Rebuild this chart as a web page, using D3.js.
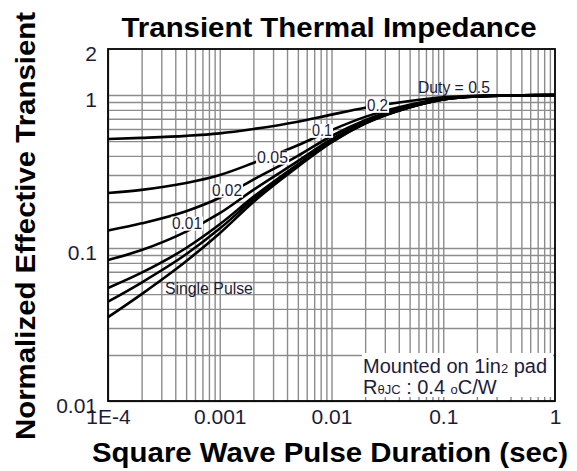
<!DOCTYPE html>
<html>
<head>
<meta charset="utf-8">
<script src="https://cdn.jsdelivr.net/npm/d3@7"></script>
<style>
  body { margin: 0; background: #fff; }
  svg { display: block; font-family: "Liberation Sans", Arial, sans-serif; }
</style>
</head>
<body>
<svg id="chart" width="577" height="471"></svg>
<script>
// Pulse durations (s) at which each curve is sampled
const pulseDuration = [1e-4, 2e-4, 5e-4, 1e-3, 2e-3, 5e-3, 1e-2, 2e-2, 5e-2, 0.1, 0.2, 0.5, 1];

// Normalized effective transient thermal impedance per duty cycle
const duty050 = [0.516, 0.525, 0.541, 0.562, 0.600, 0.670, 0.745, 0.825, 0.915, 0.967, 0.990, 0.998, 1.0];
const duty020 = [0.229, 0.240, 0.266, 0.300, 0.360, 0.470, 0.590, 0.720, 0.864, 0.948, 0.984, 0.996, 1.0];
const duty010 = [0.130, 0.145, 0.174, 0.213, 0.280, 0.400, 0.540, 0.685, 0.847, 0.942, 0.982, 0.996, 1.0];
const duty005 = [0.0835, 0.097, 0.128, 0.169, 0.240, 0.370, 0.515, 0.668, 0.840, 0.940, 0.981, 0.995, 1.0];
const duty002 = [0.0548, 0.069, 0.100, 0.143, 0.216, 0.353, 0.500, 0.657, 0.833, 0.937, 0.980, 0.995, 1.0];
const duty001 = [0.0446, 0.0595, 0.091, 0.134, 0.208, 0.347, 0.495, 0.654, 0.832, 0.936, 0.980, 0.995, 1.0];
const singlePulse = [0.0353, 0.050, 0.082, 0.125, 0.200, 0.340, 0.490, 0.650, 0.830, 0.935, 0.980, 0.995, 1.0];

const seriesList = [duty050, duty020, duty010, duty005, duty002, duty001, singlePulse];

// Axis ticks
const xTickValues = [1e-4, 1e-3, 1e-2, 0.1, 1];
const xTickLabels = ["1E-4", "0.001", "0.01", "0.1", "1"];
const yTickValues = [0.01, 0.1, 1, 2];
const yTickLabels = ["0.01", "0.1", "1", "2"];

// Curve annotations: [text, pulse duration, impedance, background, text width]
const curveLabels = [
  ["Duty = 0.5", 0.1247, 1.128, false, 72],
  ["0.2", 0.0258, 0.86, true, 21],
  ["0.1", 0.00822, 0.59, true, 20],
  ["0.05", 0.00297, 0.394, true, 31],
  ["0.02", 0.00116, 0.24, true, 30],
  ["0.01", 0.000509, 0.146, true, 30],
  ["Single Pulse", 0.0008, 0.0548, false, 88]
];

const margin = { left: 108, right: 22, top: 49, bottom: 70 };
const W = 577, H = 471;
const pw = W - margin.left - margin.right;
const ph = H - margin.top - margin.bottom;

const svg = d3.select("#chart");
const g = svg.append("g").attr("transform", `translate(${margin.left},${margin.top})`);

const x = d3.scaleLog().domain([1e-4, 1]).range([0, pw]);
const y = d3.scaleLog().domain([0.01, 2]).range([ph, 0]);

// Minor grid values: 1..9 times each decade
const xGrid = [];
for (let e = -4; e < 0; e++) for (let k = 1; k <= 9; k++) xGrid.push(k * Math.pow(10, e));
const yGrid = [];
for (let e = -2; e < 0; e++) for (let k = 1; k <= 9; k++) yGrid.push(k * Math.pow(10, e));
yGrid.push(1);

const gridColor = "#8c8c8c";

g.append("g")
  .attr("class", "grid-x")
  .attr("transform", `translate(0,${ph})`)
  .call(d3.axisBottom(x).tickValues(xGrid).tickSize(-ph).tickFormat(""))
  .call(s => s.select(".domain").remove())
  .call(s => s.selectAll("line").attr("stroke", gridColor).attr("stroke-width", 1.4));

g.append("g")
  .attr("class", "grid-y")
  .call(d3.axisLeft(y).tickValues(yGrid).tickSize(-pw).tickFormat(""))
  .call(s => s.select(".domain").remove())
  .call(s => s.selectAll("line").attr("stroke", gridColor).attr("stroke-width", 1.4));

// Note box in the lower right corner
const note = g.append("g").attr("class", "note");
note.append("rect")
  .attr("x", 254).attr("y", 304)
  .attr("width", 191).attr("height", 44)
  .attr("fill", "#fff");

const noteText = note.append("text")
  .attr("fill", "#1c1c3a")
  .attr("font-size", 20);
const l1 = noteText.append("tspan").attr("x", 255).attr("y", 324);
l1.append("tspan").text("Mounted on 1in");
l1.append("tspan").attr("font-size", 13).text("2");
l1.append("tspan").text(" pad");
const l2 = noteText.append("tspan").attr("x", 255).attr("y", 345);
l2.append("tspan").text("R");
l2.append("tspan").attr("font-size", 13).text("θJC");
l2.append("tspan").text(" : 0.4 ");
l2.append("tspan").attr("font-size", 13).text("o");
l2.append("tspan").text("C/W");

// Curves
const line = d3.line()
  .x((d, i) => x(pulseDuration[i]))
  .y(d => y(d))
  .curve(d3.curveMonotoneX);

g.append("g").attr("class", "curves")
  .selectAll("path")
  .data(seriesList)
  .join("path")
  .attr("d", line)
  .attr("fill", "none")
  .attr("stroke", "#000")
  .attr("stroke-width", 2.6);

// Curve labels
const lab = g.append("g").attr("class", "curve-labels")
  .selectAll("g")
  .data(curveLabels)
  .join("g")
  .attr("transform", d => `translate(${x(d[1])},${y(d[2])})`);

lab.append("text")
  .attr("text-anchor", "middle")
  .attr("dy", "0.36em")
  .attr("font-size", 16)
  .attr("fill", "#1c1c3a")
  .attr("textLength", d => d[4])
  .attr("lengthAdjust", "spacingAndGlyphs")
  .text(d => d[0]);

lab.each(function(d) {
  if (!d[3]) return;
  const t = d3.select(this).select("text");
  const b = t.node().getBBox();
  d3.select(this).insert("rect", "text")
    .attr("x", b.x - 1).attr("y", b.y + 2)
    .attr("width", b.width + 2).attr("height", b.height - 3)
    .attr("fill", "#fff");
});

// Plot frame
g.append("rect")
  .attr("width", pw).attr("height", ph)
  .attr("fill", "none")
  .attr("stroke", "#000")
  .attr("stroke-width", 1.8);

// Tick labels
g.append("g")
  .attr("class", "x-axis")
  .attr("transform", `translate(0,${ph})`)
  .call(d3.axisBottom(x).tickValues(xTickValues).tickSize(0).tickPadding(8)
        .tickFormat((d, i) => xTickLabels[i]))
  .call(s => s.select(".domain").remove())
  .call(s => s.selectAll("text")
    .attr("font-size", 21).attr("fill", "#1c1c3a")
    .attr("font-family", "Liberation Sans, Arial, sans-serif"));

g.append("g")
  .attr("class", "y-axis")
  .call(d3.axisLeft(y).tickValues(yTickValues).tickSize(0).tickPadding(11)
        .tickFormat((d, i) => yTickLabels[i]))
  .call(s => s.select(".domain").remove())
  .call(s => s.selectAll("text")
    .attr("font-size", 21).attr("fill", "#1c1c3a").attr("dy", "0.55em")
    .attr("font-family", "Liberation Sans, Arial, sans-serif"));

// Titles
svg.append("text")
  .attr("x", 329).attr("y", 37)
  .attr("text-anchor", "middle")
  .attr("font-size", 28).attr("font-weight", "bold")
  .attr("textLength", 415).attr("lengthAdjust", "spacingAndGlyphs")
  .text("Transient Thermal Impedance");

svg.append("text")
  .attr("x", 330).attr("y", 462)
  .attr("text-anchor", "middle")
  .attr("font-size", 28).attr("font-weight", "bold")
  .attr("textLength", 476).attr("lengthAdjust", "spacingAndGlyphs")
  .text("Square Wave Pulse Duration (sec)");

svg.append("text")
  .attr("transform", "translate(35,226) rotate(-90)")
  .attr("text-anchor", "middle")
  .attr("font-size", 27).attr("font-weight", "bold")
  .attr("textLength", 428).attr("lengthAdjust", "spacingAndGlyphs")
  .text("Normalized Effective Transient");
</script>
</body>
</html>
